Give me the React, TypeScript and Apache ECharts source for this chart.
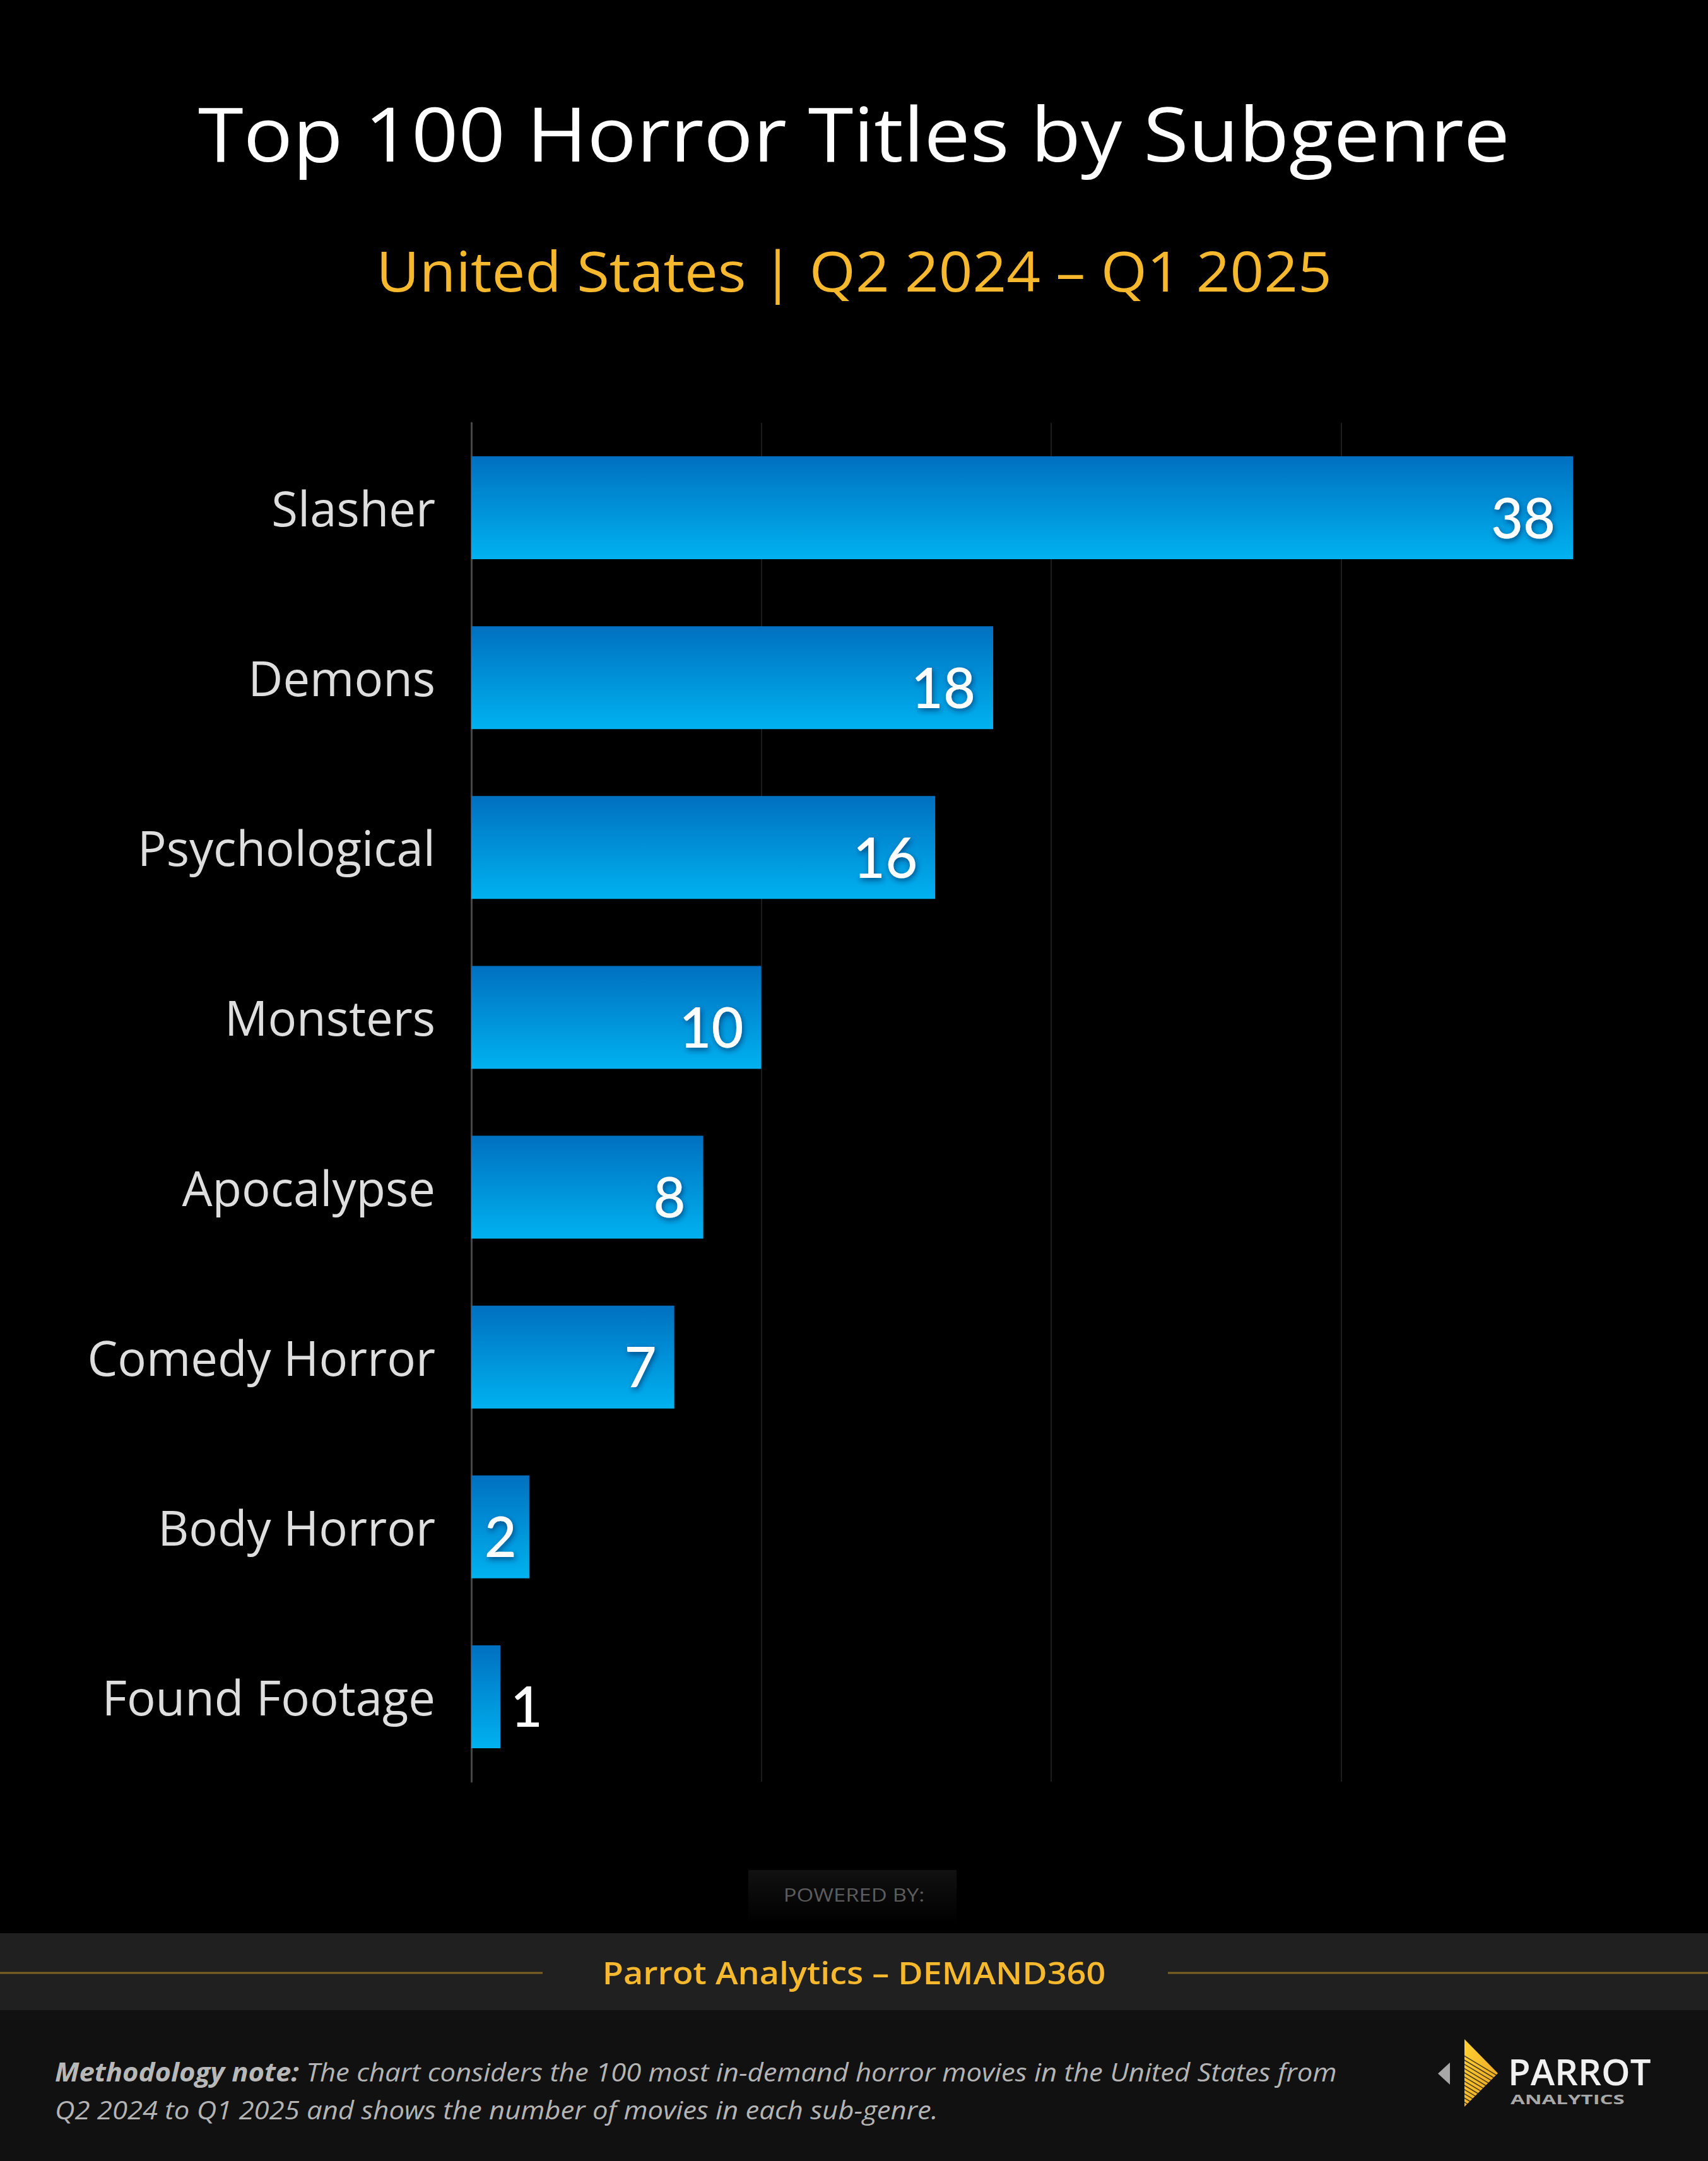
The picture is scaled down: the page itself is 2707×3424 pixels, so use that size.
import React, { useEffect, useRef } from "react";
import * as echarts from "echarts";

const categories = [
  "Slasher",
  "Demons",
  "Psychological",
  "Monsters",
  "Apocalypse",
  "Comedy Horror",
  "Body Horror",
  "Found Footage",
];
const values = [38, 18, 16, 10, 8, 7, 2, 1];

const titleText = "Top 100 Horror Titles by Subgenre";
const subtitleText = "United States | Q2 2024 – Q1 2025";
const poweredText = "POWERED BY:";
const bandText = "Parrot Analytics – DEMAND360";
const noteBold = "Methodology note:";
const noteLine1 = " The chart considers the 100 most in-demand horror movies in the United States from";
const noteLine2 = "Q2 2024 to Q1 2025 and shows the number of movies in each sub-genre.";

const W = 2707;
const H = 3424;
const FONT = "'Open Sans', 'Noto Sans', sans-serif";
const NUMFONT = "Lato, 'Open Sans', sans-serif";

function logoStripes() {
  const items: any[] = [];
  const ox = 2200;
  const oy = 3180;
  const ys = [232, 252, 272, 292, 312, 332, 352, 372, 392, 412, 432, 452];
  ys.forEach((y0) => {
    const t = (476 - y0) / 1.6;
    items.push({
      type: "line",
      shape: {
        x1: ox + 362 / 3,
        y1: oy + y0 / 3,
        x2: ox + (362 + t) / 3,
        y2: oy + (y0 + 0.6 * t) / 3,
      },
      style: { stroke: "rgba(17,17,17,0.75)", lineWidth: 1.6 },
      z: 12,
    });
  });
  return items;
}

export default function App() {
  const ref = useRef<HTMLDivElement>(null);

  useEffect(() => {
    document.body.style.margin = "0";
    document.body.style.background = "#000";
    if (!ref.current) return;
    const chart = echarts.init(ref.current, null, { renderer: "svg" });

    const barGradient = new echarts.graphic.LinearGradient(0, 0, 0, 1, [
      { offset: 0, color: "#0070C0" },
      { offset: 1, color: "#00B2F0" },
    ]);

    const data = values.map((v) => ({
      value: v,
      label:
        v >= 2
          ? {
              show: true,
              position: "insideRight",
              distance: v >= 5 ? 28 : 20,
              offset: [0, 14],
              color: "#ffffff",
              fontSize: 88,
              fontFamily: NUMFONT,
              fontWeight: 500,
              textShadowColor: "rgba(0,40,90,0.65)",
              textShadowBlur: 8,
              textShadowOffsetX: 2,
              textShadowOffsetY: 4,
            }
          : {
              show: true,
              position: "right",
              distance: 16,
              offset: [0, 14],
              color: "#ffffff",
              fontSize: 88,
              fontFamily: NUMFONT,
              fontWeight: 500,
            },
    }));

    const option: any = {
      animation: false,
      backgroundColor: "#000000",
      grid: {
        left: 747,
        top: 670,
        width: 1838,
        height: 2153,
        containLabel: false,
      },
      xAxis: {
        type: "value",
        min: 0,
        max: 40,
        interval: 10,
        axisLabel: { show: false },
        axisLine: { show: false },
        axisTick: { show: false },
        splitLine: {
          show: true,
          showMinLine: false,
          showMaxLine: false,
          lineStyle: { color: "#1c1c1c", width: 2 },
        },
      },
      yAxis: {
        type: "category",
        inverse: true,
        data: categories,
        axisTick: { show: false },
        axisLine: { show: true, lineStyle: { color: "#454545", width: 3 } },
        axisLabel: {
          color: "#dedede",
          fontSize: 76,
          fontFamily: FONT,
          margin: 57,
          padding: [0, 0, 18, 0],
        },
        splitLine: { show: false },
      },
      series: [
        {
          type: "bar",
          data,
          barCategoryGap: "39.4%",
          itemStyle: { color: barGradient },
          z: 3,
        },
      ],
      graphic: [
        {
          type: "text",
          x: W / 2,
          y: 210,
          scaleX: 1.085,
          style: {
            text: titleText,
            fill: "#ffffff",
            fontSize: 120,
            fontFamily: FONT,
            fontWeight: 500,
            align: "center",
            verticalAlign: "middle",
          },
        },
        {
          type: "text",
          x: W / 2,
          y: 428,
          scaleX: 1.08,
          style: {
            text: subtitleText,
            fill: "#F6B82C",
            fontSize: 87,
            fontFamily: FONT,
            fontWeight: 500,
            align: "center",
            verticalAlign: "middle",
          },
        },
        {
          type: "rect",
          shape: { x: 1186, y: 2963, width: 330, height: 100 },
          style: {
            fill: new echarts.graphic.LinearGradient(0, 0, 0, 1, [
              { offset: 0, color: "#111111" },
              { offset: 0.85, color: "#000000" },
              { offset: 1, color: "#000000" },
            ]),
          },
        },
        {
          type: "text",
          x: W / 2,
          y: 3001,
          scaleX: 1.15,
          style: {
            text: poweredText,
            fill: "#5c5c5c",
            fontSize: 30,
            fontFamily: FONT,
            align: "center",
            verticalAlign: "middle",
          },
        },
        {
          type: "rect",
          shape: { x: 0, y: 3063, width: W, height: 122 },
          style: { fill: "#202020" },
        },
        {
          type: "line",
          shape: { x1: 0, y1: 3126, x2: 860, y2: 3126 },
          style: { stroke: "#7d6224", lineWidth: 3 },
        },
        {
          type: "line",
          shape: { x1: 1851, y1: 3126, x2: W, y2: 3126 },
          style: { stroke: "#7d6224", lineWidth: 3 },
        },
        {
          type: "text",
          x: W / 2,
          y: 3125,
          scaleX: 1.1,
          style: {
            text: bandText,
            fill: "#F6B82C",
            fontSize: 49,
            fontFamily: FONT,
            fontWeight: 600,
            align: "center",
            verticalAlign: "middle",
          },
        },
        {
          type: "rect",
          shape: { x: 0, y: 3185, width: W, height: H - 3185 },
          style: { fill: "#111111" },
        },
        {
          type: "text",
          x: 87,
          y: 3282,
          scaleX: 1.065,
          style: {
            text: `{b|${noteBold}}{n|${noteLine1}}`,
            fontFamily: FONT,
            verticalAlign: "middle",
            align: "left",
            rich: {
              b: {
                fontSize: 41,
                fontFamily: FONT,
                fontStyle: "italic",
                fontWeight: 700,
                fill: "#b8b8b8",
                color: "#b8b8b8",
              },
              n: {
                fontSize: 41,
                fontFamily: FONT,
                fontStyle: "italic",
                fill: "#b4b4b4",
                color: "#b4b4b4",
              },
            },
          },
        },
        {
          type: "text",
          x: 87,
          y: 3342,
          scaleX: 1.065,
          style: {
            text: noteLine2,
            fill: "#b4b4b4",
            fontSize: 41,
            fontFamily: FONT,
            fontStyle: "italic",
            align: "left",
            verticalAlign: "middle",
          },
        },
        {
          type: "polygon",
          shape: {
            points: [
              [2298, 3268],
              [2298, 3303],
              [2279, 3285.5],
            ],
          },
          style: { fill: "#a8a8a8" },
          z: 10,
        },
        {
          type: "polygon",
          shape: {
            points: [
              [2321, 3231],
              [2374, 3285],
              [2321, 3338],
            ],
          },
          style: {
            fill: new echarts.graphic.LinearGradient(0, 0, 1, 1, [
              { offset: 0, color: "#FFD233" },
              { offset: 1, color: "#E8A020" },
            ]),
          },
          z: 10,
        },
        ...logoStripes(),
        {
          type: "text",
          x: 2390,
          y: 3281,
          style: {
            text: "PARROT",
            fill: "#f0f0f0",
            fontSize: 58,
            fontFamily: FONT,
            fontWeight: 600,
            align: "left",
            verticalAlign: "middle",
          },
          z: 10,
        },
        {
          type: "text",
          x: 2394,
          y: 3325,
          scaleX: 1.5,
          style: {
            text: "ANALYTICS",
            fill: "#a8a8a8",
            fontSize: 22,
            fontFamily: FONT,
            fontWeight: 700,
            align: "left",
            verticalAlign: "middle",
          },
          z: 10,
        },
      ],
    };

    chart.setOption(option);
    return () => chart.dispose();
  }, []);

  return (
    <div
      ref={ref}
      style={{ width: W, height: H, position: "absolute", left: 0, top: 0 }}
    />
  );
}
